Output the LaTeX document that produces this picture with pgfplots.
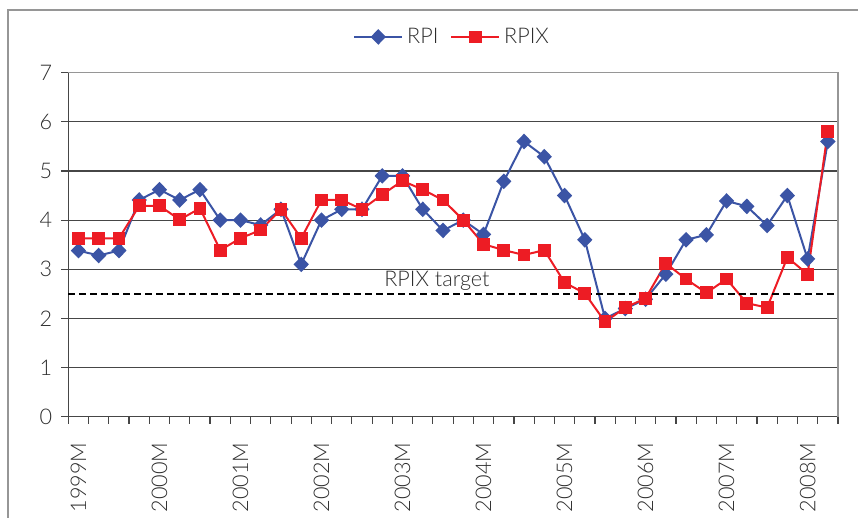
\documentclass[border=0pt]{standalone}
\usepackage{pgfplots}
\pgfplotsset{compat=1.18}
\usepackage{pgfplotstable}
\usepackage{fontspec}
\setmainfont{Lato Light}
\definecolor{rpiblue}{RGB}{59,84,165}
\definecolor{rpixred}{RGB}{237,28,36}
\definecolor{txt}{RGB}{45,45,45}
\definecolor{gridc}{RGB}{70,70,70}
\definecolor{framec}{RGB}{150,150,150}
\pgfplotstableread{
x rpi rpix
0 3.38 3.63
1 3.28 3.63
2 3.38 3.63
3 4.41 4.29
4 4.62 4.29
5 4.41 4.01
6 4.62 4.24
7 4.00 3.39
8 4.00 3.63
9 3.90 3.80
10 4.22 4.22
11 3.10 3.63
12 4.00 4.41
13 4.22 4.41
14 4.22 4.22
15 4.90 4.52
16 4.90 4.80
17 4.22 4.62
18 3.79 4.41
19 4.00 4.00
20 3.71 3.51
21 4.79 3.39
22 5.60 3.29
23 5.29 3.39
24 4.50 2.73
25 3.60 2.51
26 2.00 1.93
27 2.20 2.22
28 2.39 2.41
29 2.90 3.12
30 3.60 2.80
31 3.70 2.52
32 4.39 2.80
33 4.28 2.31
34 3.89 2.22
35 4.50 3.24
36 3.21 2.90
37 5.60 5.81
}\datatable
\begin{document}
\begin{tikzpicture}
\path[use as bounding box] (-34.15pt,-50.65pt) rectangle (394.85pt,208.35pt);
\begin{axis}[
  at={(0,0)}, anchor=south west,
  scale only axis,
  width=384.85pt, height=172pt,
  xmin=-0.5, xmax=37.5,
  ymin=0, ymax=7,
  ytick={0,1,...,7},
  xtick={0,4,...,36},
  xticklabels={1999M,2000M,2001M,2002M,2003M,2004M,2005M,2006M,2007M,2008M},
  minor xtick={-0.5,0.5,...,37.5},
  major x tick style={draw=none},
  minor tick length=3.5pt,
  major tick length=3.5pt,
  tick align=outside,
  tick style={gridc, line width=0.6pt},
  axis x line*=bottom, axis y line*=left,
  axis line style={gridc, line width=0.7pt, -},
  ymajorgrids,
  grid style={gridc, line width=0.6pt},
  /pgf/number format/assume math mode=true,
  tick label style={font=\fontsize{10.8}{12}\selectfont, text=txt},
  xticklabel style={rotate=90, anchor=east},
  xticklabel shift=6pt,
  yticklabel shift=1pt,
  legend style={draw=none, fill=none, at={(0.5,1.104)}, anchor=center,
    font=\fontsize{10.8}{12}\selectfont, text=txt, legend columns=2,
    /tikz/every even column/.append style={column sep=4pt}},
  legend image code/.code={\draw[mark repeat=2,mark phase=2,#1] plot coordinates {(0cm,0cm) (0.42cm,0cm) (0.84cm,0cm)};},
  clip=false,
]
\addplot[rpiblue, line width=1pt, mark=diamond*, mark size=3.2pt, mark options={xscale=1.3, fill=rpiblue, draw=rpiblue}] table[x=x, y=rpi] {\datatable};
\addlegendentry{RPI}
\addplot[rpixred, line width=1pt, mark=square*, mark size=2.7pt, mark options={fill=rpixred, draw=rpixred}] table[x=x, y=rpix] {\datatable};
\addlegendentry{RPIX}
\addplot[black, line width=0.9pt, dash pattern=on 3.3pt off 2.2pt, forget plot] coordinates {(-0.5,2.5) (37.3,2.5)};
\draw[framec, line width=0.7pt] (rel axis cs:0,1) -- (rel axis cs:1,1) -- (rel axis cs:1,0);
\node[anchor=south, text=txt, font=\fontsize{10.8}{12}\selectfont, inner sep=1.5pt] at (axis cs:17.7,2.5) {RPIX target};
\end{axis}
\draw[framec, line width=0.7pt] (-30.15pt,-60pt) -- (-30.15pt,203.35pt) -- (410pt,203.35pt);
\end{tikzpicture}
\end{document}
